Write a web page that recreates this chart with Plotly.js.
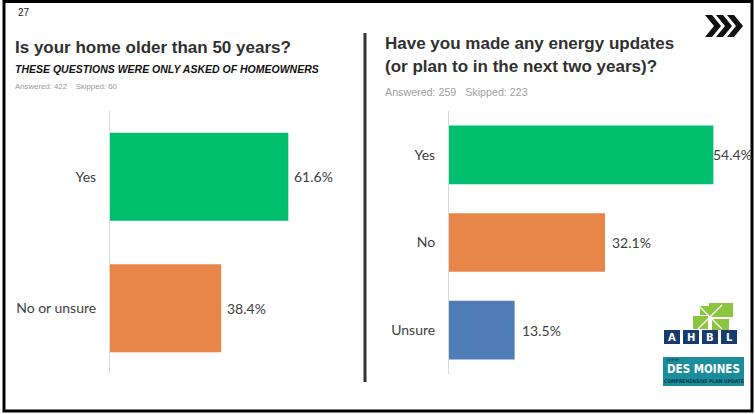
<!DOCTYPE html>
<html>
<head>
<meta charset="utf-8">
<script src="https://cdn.plot.ly/plotly-3.0.1.min.js"></script>
<style>
html,body{margin:0;padding:0;background:#fff;}
#chart{width:755px;height:414px;}
</style>
</head>
<body>
<div id="chart"></div>
<script>
// ---- data ----
const leftCategories = ["Yes", "No or unsure"];
const leftValues = [61.6, 38.4];
const leftLabels = ["61.6%", "38.4%"];
const leftColors = ["#00bf6f", "#e8864a"];

const rightCategories = ["Yes", "No", "Unsure"];
const rightValues = [54.4, 32.1, 13.5];
const rightLabels = ["54.4%", "32.1%", "13.5%"];
const rightColors = ["#00bf6f", "#e8864a", "#507cb6"];

const leftTitle = "Is your home older than 50 years?";
const leftSubtitle = "THESE QUESTIONS WERE ONLY ASKED OF HOMEOWNERS";
const leftAnswered = "Answered: 422&nbsp;&nbsp;&nbsp;&nbsp;Skipped: 60";
const rightTitle1 = "Have you made any energy updates";
const rightTitle2 = "(or plan to in the next two years)?";
const rightAnswered = "Answered: 259&nbsp;&nbsp;&nbsp;Skipped: 223";
const pageNumber = "27";

// ---- helpers (pixel -> paper) ----
const W = 755, H = 414;
const px = x => x / W;
const py = y => 1 - y / H;

const tickFont = {family: "Lato, 'Open Sans', sans-serif", size: 14, color: "#404040"};
const titleFont = {family: "'Liberation Sans', Arial, sans-serif", size: 17, color: "#303030"};

const traces = [
  {type: "bar", orientation: "h", x: leftValues, y: leftCategories,
   marker: {color: leftColors}, xaxis: "x", yaxis: "y", hoverinfo: "none", showlegend: false},
  {type: "bar", orientation: "h", x: rightValues, y: rightCategories,
   marker: {color: rightColors}, xaxis: "x2", yaxis: "y2", hoverinfo: "none", showlegend: false}
];

const annotations = [];
leftValues.forEach((v, i) => annotations.push({
  xref: "x", yref: "y", x: v, y: leftCategories[i], text: leftLabels[i],
  xanchor: "left", yanchor: "middle", xshift: 4, showarrow: false, font: tickFont
}));
rightValues.forEach((v, i) => annotations.push({
  xref: "x2", yref: "y2", x: v, y: rightCategories[i], text: rightLabels[i],
  xanchor: "left", yanchor: "middle", xshift: i === 0 ? -2 : 5, showarrow: false, font: tickFont
}));

function txt(x, y, text, font) {
  return {xref: "paper", yref: "paper", x: px(x), y: py(y), text: text,
          xanchor: "left", yanchor: "middle", showarrow: false, font: font};
}
annotations.push(txt(16, 12, pageNumber, {family: "'Liberation Sans', Arial", size: 10, color: "#222"}));
annotations.push(txt(13, 47, "<b>" + leftTitle + "</b>", titleFont));
annotations.push(txt(13, 69, "<b><i>" + leftSubtitle + "</i></b>", {family: "'Liberation Sans', Arial", size: 10.5, color: "#111"}));
annotations.push(txt(13, 86, leftAnswered, {family: "'Liberation Sans', Arial", size: 7.8, color: "#9a9a9a"}));
annotations.push(txt(383, 43, "<b>" + rightTitle1 + "</b>", titleFont));
annotations.push(txt(383, 66, "<b>" + rightTitle2 + "</b>", titleFont));
annotations.push(txt(383, 92, rightAnswered, {family: "'Liberation Sans', Arial", size: 10.7, color: "#a0a0a0"}));

// logo text
const ahbl = ["A", "H", "B", "L"];
ahbl.forEach((c, i) => annotations.push({
  xref: "paper", yref: "paper", x: px(672 + i * 19), y: py(337), text: "<b>" + c + "</b>",
  xanchor: "center", yanchor: "middle", showarrow: false,
  font: {family: "'DejaVu Sans', sans-serif", size: 10, color: "#ffffff"}
}));
annotations.push({xref: "paper", yref: "paper", x: px(703.5), y: py(369), text: "<b>DES MOINES</b>",
  xanchor: "center", yanchor: "middle", showarrow: false,
  font: {family: "'DejaVu Sans Condensed', 'Liberation Sans Narrow', sans-serif", size: 11.5, color: "#ffffff"}});
annotations.push({xref: "paper", yref: "paper", x: px(703.5), y: py(381), text: "<b>COMPREHENSIVE PLAN UPDATE</b>",
  xanchor: "center", yanchor: "middle", showarrow: false,
  font: {family: "'DejaVu Sans Condensed', 'Liberation Sans Narrow', sans-serif", size: 5, color: "#0d3b44"}});
annotations.push({xref: "paper", yref: "paper", x: px(665), y: py(359.5), text: "<b>CITY OF</b>",
  xanchor: "left", yanchor: "middle", showarrow: false,
  font: {family: "'DejaVu Sans Condensed', sans-serif", size: 3, color: "#0d3b44"}});

const shapes = [];
// frame
shapes.push({type: "rect", xref: "paper", yref: "paper", x0: px(4), x1: px(752), y0: py(411), y1: py(1.5),
  line: {color: "#000", width: 3}, fillcolor: "rgba(0,0,0,0)"});
// divider
shapes.push({type: "line", xref: "paper", yref: "paper", x0: px(365), x1: px(365), y0: py(33), y1: py(382),
  line: {color: "#333", width: 3}});
// chevrons
for (let k = 0; k < 3; k++) {
  const x0 = 705 + k * 11;
  const pts = [[x0, 15], [x0 + 7, 15], [x0 + 16, 26], [x0 + 7, 37], [x0, 37], [x0 + 9, 26]];
  const d = "M" + pts.map(p => px(p[0]) + "," + py(p[1])).join(" L") + " Z";
  shapes.push({type: "path", xref: "paper", yref: "paper", path: d, fillcolor: "#111", line: {width: 0}});
}
// green leaf logo
const leafs = [[709, 303, 733, 317], [693, 316, 708, 329], [712, 319, 729, 330], [700, 306, 709, 315]];
leafs.forEach(r => shapes.push({type: "rect", xref: "paper", yref: "paper",
  x0: px(r[0]), x1: px(r[2]), y0: py(r[3]), y1: py(r[1]), fillcolor: "#8cc63f", line: {width: 0}}));
shapes.push({type: "line", xref: "paper", yref: "paper", x0: px(698), x1: px(722), y0: py(329), y1: py(305),
  line: {color: "#ffffff", width: 1.2}});
shapes.push({type: "line", xref: "paper", yref: "paper", x0: px(700), x1: px(722), y0: py(307), y1: py(329),
  line: {color: "#ffffff", width: 1.2}});
// AHBL boxes
ahbl.forEach((c, i) => shapes.push({type: "rect", xref: "paper", yref: "paper",
  x0: px(664 + i * 19), x1: px(680 + i * 19), y0: py(344), y1: py(330), fillcolor: "#173b6c", line: {width: 0}}));
// Des Moines box
shapes.push({type: "rect", xref: "paper", yref: "paper", x0: px(663), x1: px(744), y0: py(386), y1: py(357),
  fillcolor: "#1b8c9c", line: {width: 0}});

const yaxisCommon = {
  type: "category", autorange: "reversed", showgrid: false, zeroline: false,
  showline: true, linecolor: "#d9d9d9", linewidth: 1, ticks: "", tickfont: tickFont,
  ticklabelstandoff: 10, fixedrange: true
};
const layout = {
  width: W, height: H, margin: {l: 0, r: 0, t: 0, b: 0},
  paper_bgcolor: "#fff", plot_bgcolor: "rgba(0,0,0,0)",
  bargap: 0.33, showlegend: false,
  xaxis: {domain: [px(110), px(330)], range: [0, 76], visible: false, fixedrange: true},
  yaxis: Object.assign({}, yaxisCommon, {domain: [py(374), py(111)], anchor: "x",
    categoryarray: leftCategories, categoryorder: "array"}),
  xaxis2: {domain: [px(449), px(740.6)], range: [0, 60], visible: false, anchor: "y2", fixedrange: true},
  yaxis2: Object.assign({}, yaxisCommon, {domain: [py(374), py(111)], anchor: "x2",
    categoryarray: rightCategories, categoryorder: "array"}),
  annotations: annotations, shapes: shapes
};
Plotly.newPlot("chart", traces, layout, {displayModeBar: false, staticPlot: true});
</script>
</body>
</html>
